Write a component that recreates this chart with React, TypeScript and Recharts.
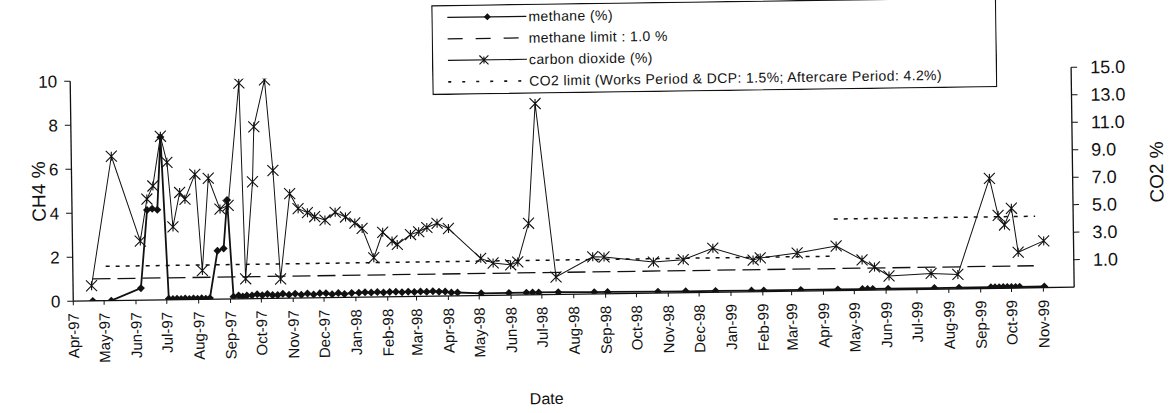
import React from 'react';
import { LineChart, Line, XAxis, YAxis, Legend } from 'recharts';

// month labels on the date axis (ticks sit on the 1st of each month)
const monthNames = ['Jan', 'Feb', 'Mar', 'Apr', 'May', 'Jun', 'Jul', 'Aug', 'Sep', 'Oct', 'Nov', 'Dec'];
const monthLabels = [
  'Apr-97', 'May-97', 'Jun-97', 'Jul-97', 'Aug-97', 'Sep-97', 'Oct-97', 'Nov-97', 'Dec-97',
  'Jan-98', 'Feb-98', 'Mar-98', 'Apr-98', 'May-98', 'Jun-98', 'Jul-98', 'Aug-98', 'Sep-98',
  'Oct-98', 'Nov-98', 'Dec-98', 'Jan-99', 'Feb-99', 'Mar-99', 'Apr-99', 'May-99', 'Jun-99',
  'Jul-99', 'Aug-99', 'Sep-99', 'Oct-99', 'Nov-99',
];
const ch4Ticks = [0, 2, 4, 6, 8, 10];
const co2Ticks = [1, 3, 5, 7, 9, 11, 13, 15];

// methane (%)
const ch4Dates = [
  '1997-04-20', '1997-05-08', '1997-06-06', '1997-06-13', '1997-06-18', '1997-06-23', '1997-06-27',
  '1997-07-03', '1997-07-07', '1997-07-11', '1997-07-15', '1997-07-19', '1997-07-23', '1997-07-27',
  '1997-07-31', '1997-08-04', '1997-08-08', '1997-08-12', '1997-08-20', '1997-08-26', '1997-08-30',
  '1997-09-04', '1997-09-09', '1997-09-13', '1997-09-17', '1997-09-22', '1997-09-27', '1997-10-02',
  '1997-10-07', '1997-10-12', '1997-10-17', '1997-10-22', '1997-10-28', '1997-11-03', '1997-11-09',
  '1997-11-15', '1997-11-21', '1997-11-27', '1997-12-03', '1997-12-09', '1997-12-15', '1997-12-21',
  '1997-12-28', '1998-01-04', '1998-01-10', '1998-01-16', '1998-01-22', '1998-01-28', '1998-02-03',
  '1998-02-09', '1998-02-15', '1998-02-21', '1998-02-27', '1998-03-05', '1998-03-11', '1998-03-17',
  '1998-03-23', '1998-03-29', '1998-04-04', '1998-04-10', '1998-05-03', '1998-05-30', '1998-06-16',
  '1998-06-22', '1998-06-28', '1998-07-17', '1998-08-21', '1998-09-03', '1998-10-22', '1998-11-18',
  '1998-12-17', '1999-01-21', '1999-02-02', '1999-03-10', '1999-04-15', '1999-05-09', '1999-05-14',
  '1999-05-19', '1999-06-03', '1999-07-18', '1999-08-11', '1999-09-11', '1999-09-15', '1999-09-19',
  '1999-09-23', '1999-09-27', '1999-10-01', '1999-10-05', '1999-10-09', '1999-11-02',
];
const ch4Values = [
  0.0, 0.0, 0.55, 4.1, 4.15, 4.1, 7.4,
  0.05, 0.03, 0.05, 0.03, 0.05, 0.03, 0.05,
  0.03, 0.05, 0.03, 0.05, 2.2, 2.3, 4.5,
  0.1, 0.15, 0.1, 0.15, 0.15, 0.2, 0.15,
  0.2, 0.15, 0.15, 0.2, 0.15, 0.2, 0.15,
  0.2, 0.15, 0.2, 0.2, 0.15, 0.2, 0.15,
  0.2, 0.2, 0.22, 0.2, 0.22, 0.2, 0.22,
  0.22, 0.2, 0.22, 0.2, 0.22, 0.2, 0.22,
  0.2, 0.2, 0.15, 0.15, 0.1, 0.1, 0.1,
  0.1, 0.1, 0.1, 0.08, 0.08, 0.06, 0.06,
  0.06, 0.05, 0.05, 0.05, 0.05, 0.05, 0.05,
  0.05, 0.05, 0.05, 0.05, 0.05, 0.05, 0.05,
  0.05, 0.05, 0.05, 0.05, 0.05, 0.05,
];

// carbon dioxide (%)
const co2Dates = [
  '1997-04-19', '1997-05-10', '1997-06-06', '1997-06-13', '1997-06-19', '1997-06-27', '1997-07-03',
  '1997-07-08', '1997-07-15', '1997-07-20', '1997-07-30', '1997-08-05', '1997-08-12', '1997-08-23',
  '1997-08-31', '1997-09-12', '1997-09-16', '1997-09-24', '1997-09-26', '1997-10-07', '1997-10-14',
  '1997-10-20', '1997-10-30', '1997-11-07', '1997-11-16', '1997-11-23', '1997-12-03', '1997-12-13',
  '1997-12-23', '1998-01-01', '1998-01-08', '1998-01-19', '1998-01-28', '1998-02-06', '1998-02-11',
  '1998-02-24', '1998-03-04', '1998-03-12', '1998-03-22', '1998-04-02', '1998-05-03', '1998-05-15',
  '1998-06-01', '1998-06-08', '1998-06-19', '1998-06-27', '1998-07-15', '1998-08-20', '1998-08-31',
  '1998-10-18', '1998-11-16', '1998-12-15', '1999-01-23', '1999-01-30', '1999-03-07', '1999-04-14',
  '1999-05-09', '1999-05-21', '1999-06-04', '1999-07-15', '1999-08-10', '1999-09-11', '1999-09-19',
  '1999-09-25', '1999-10-02', '1999-10-08', '1999-11-02',
];
const co2Values = [
  0.1, 9.5, 3.3, 6.35, 7.3, 10.9, 9.0,
  4.3, 6.8, 6.3, 8.1, 1.1, 7.8, 5.55,
  5.8, 14.7, 0.45, 7.5, 11.5, 14.9, 8.3,
  0.4, 6.6, 5.5, 5.2, 4.9, 4.65, 5.2,
  4.85, 4.4, 4.0, 1.85, 3.7, 3.05, 2.8,
  3.5, 3.7, 4.0, 4.3, 3.9, 1.7, 1.35,
  1.2, 1.4, 4.2, 12.9, 0.27, 1.7, 1.67,
  1.26, 1.4, 2.2, 1.3, 1.45, 1.77, 2.24,
  1.2, 0.67, 0.0, 0.15, 0.05, 7.0, 4.3,
  3.6, 4.8, 1.6, 2.4,
];

// limits
const ch4LimitDates = ['1997-04-20', '1999-10-23'];
const ch4LimitValues = [1.0, 1.0];
const co2WorksLimitDates = ['1997-05-03', '1999-04-10'];
const co2WorksLimitValues = [1.5, 1.5];
const co2AftercareLimitDates = ['1999-04-12', '1999-10-25'];
const co2AftercareLimitValues = [4.2, 4.2];

const legendLabels = [
  'methane (%)',
  'methane limit : 1.0 %',
  'carbon dioxide (%)',
  'CO2 limit (Works Period & DCP: 1.5%; Aftercare Period: 4.2%)',
];

const INK = '#111';
const FONT = '"Liberation Sans", Arial, sans-serif';

const toTime = (label: string) => {
  const [m, y] = label.split('-');
  return Date.UTC(1900 + Number(y), monthNames.indexOf(m), 1);
};
const monthTicks = monthLabels.map(toTime);
const toSeries = (dates: string[], values: number[]) =>
  dates.map((d, i) => ({ t: Date.parse(d), v: values[i] }));

const ch4Data = toSeries(ch4Dates, ch4Values);
const co2Data = toSeries(co2Dates, co2Values);
const ch4LimitData = toSeries(ch4LimitDates, ch4LimitValues);
const co2WorksData = toSeries(co2WorksLimitDates, co2WorksLimitValues);
const co2AftercareData = toSeries(co2AftercareLimitDates, co2AftercareLimitValues);

const diamondPath = (cx: number, cy: number, r: number) =>
  `M${cx},${cy - r}L${cx + r},${cy}L${cx},${cy + r}L${cx - r},${cy}Z`;
const starPath = (cx: number, cy: number, r: number) =>
  `M${cx - r},${cy - r}L${cx + r},${cy + r}M${cx - r},${cy + r}L${cx + r},${cy - r}M${cx},${cy - r + 1}L${cx},${cy + r - 1}`;

const renderDiamond = (p: any) => {
  if (p.cx == null || p.cy == null) return <g key={p.index} />;
  return <path key={p.index} d={diamondPath(p.cx, p.cy, 4)} fill={INK} />;
};

const renderStar = (p: any) => {
  if (p.cx == null || p.cy == null) return <g key={p.index} />;
  return <path key={p.index} d={starPath(p.cx, p.cy, 5.5)} stroke={INK} strokeWidth={1.1} fill="none" />;
};

const MonthTick = (props: any) => {
  const { x, y, payload } = props;
  const i = monthTicks.indexOf(payload.value);
  return (
    <text
      x={x}
      y={y}
      transform={`rotate(-90 ${x} ${y})`}
      textAnchor="end"
      dy="0.35em"
      fontSize={15}
      fontFamily={FONT}
      fill={INK}
    >
      {i >= 0 ? monthLabels[i] : ''}
    </text>
  );
};

const renderLegend = () => {
  const rowY = [12.5, 34, 55.5, 77];
  const x0 = 16;
  const x1 = 95;
  const mid = 56;
  return (
    <svg width={565} height={90} style={{ display: 'block' }}>
      <rect x={0.6} y={0.6} width={563.8} height={88.8} fill="#fff" stroke={INK} strokeWidth={1.3} />
      <line x1={x0} y1={rowY[0]} x2={x1} y2={rowY[0]} stroke={INK} strokeWidth={1.3} />
      <path d={diamondPath(mid, rowY[0], 3.5)} fill={INK} />
      <line x1={x0} y1={rowY[1]} x2={x1} y2={rowY[1]} stroke={INK} strokeWidth={1.3} strokeDasharray="15 13" />
      <line x1={x0} y1={rowY[2]} x2={x1} y2={rowY[2]} stroke={INK} strokeWidth={1.1} />
      <path d={starPath(mid - 4, rowY[2], 4.5)} stroke={INK} strokeWidth={1.1} fill="none" />
      <line x1={x0} y1={rowY[3]} x2={x1} y2={rowY[3]} stroke={INK} strokeWidth={1.6} strokeDasharray="3 11" />
      {legendLabels.map((label, i) => (
        <text
          key={label}
          x={97}
          y={rowY[i]}
          dy="0.35em"
          fontSize={14}
          letterSpacing={0.4}
          fontFamily={FONT}
          fill={INK}
        >
          {label}
        </text>
      ))}
    </svg>
  );
};

const axisTitle = (text: string, x: number, y: number, rotate: boolean) => () => (
  <text
    x={x}
    y={y}
    transform={rotate ? `rotate(-90 ${x} ${y})` : undefined}
    textAnchor="middle"
    dominantBaseline="central"
    fontSize={rotate ? 19 : 16}
    fontFamily={FONT}
    fill={INK}
  >
    {text}
  </text>
);

export default function App() {
  return (
    <div
      style={{
        position: 'absolute',
        left: 0,
        top: 0,
        width: 1173,
        height: 413,
        background: '#fff',
        transform: 'rotate(-0.8deg)',
        transformOrigin: '586.5px 206.5px',
      }}
    >
      <LineChart width={1173} height={413} margin={{ top: 74, right: 0, bottom: 0, left: 0 }}>
        <XAxis
          dataKey="t"
          type="number"
          scale="linear"
          domain={[Date.UTC(1997, 3, 1), Date.UTC(1999, 11, 1)]}
          allowDataOverflow
          ticks={monthTicks}
          tick={<MonthTick />}
          interval={0}
          height={119}
          tickSize={4}
          tickMargin={8}
          axisLine={{ stroke: INK, strokeWidth: 1.3 }}
          tickLine={{ stroke: INK }}
          label={{ content: axisTitle('Date', 544, 398, false) }}
        />
        <YAxis
          yAxisId="ch4"
          orientation="left"
          width={72}
          domain={[0, 10]}
          ticks={ch4Ticks}
          allowDataOverflow
          tickSize={6}
          tickMargin={7}
          tick={{ fontSize: 17, fill: INK, fontFamily: FONT }}
          axisLine={{ stroke: INK, strokeWidth: 1.3 }}
          tickLine={{ stroke: INK }}
          label={{ content: axisTitle('CH4 %', 39, 184, true) }}
        />
        <YAxis
          yAxisId="co2"
          orientation="right"
          width={100}
          domain={[-1, 15]}
          ticks={co2Ticks}
          allowDataOverflow
          tickSize={6}
          tickMargin={13}
          tickFormatter={(v: number) => v.toFixed(1)}
          tick={{ fontSize: 18, fill: INK, fontFamily: FONT }}
          axisLine={{ stroke: INK, strokeWidth: 1.3 }}
          tickLine={{ stroke: INK }}
          label={{ content: axisTitle('CO2 %', 1157, 180, true) }}
        />
        <Legend
          content={renderLegend}
          layout="horizontal"
          verticalAlign="middle"
          align="center"
          wrapperStyle={{ left: 434, top: 3, width: 565, height: 90 }}
        />
        <Line
          data={ch4LimitData}
          dataKey="v"
          yAxisId="ch4"
          name={legendLabels[1]}
          stroke={INK}
          strokeWidth={1.3}
          strokeDasharray="18 7"
          dot={false}
          isAnimationActive={false}
        />
        <Line
          data={co2WorksData}
          dataKey="v"
          yAxisId="co2"
          name={legendLabels[3]}
          stroke={INK}
          strokeWidth={1.5}
          strokeDasharray="4 6"
          dot={false}
          isAnimationActive={false}
        />
        <Line
          data={co2AftercareData}
          dataKey="v"
          yAxisId="co2"
          name="aftercare"
          legendType="none"
          stroke={INK}
          strokeWidth={1.5}
          strokeDasharray="4 6"
          dot={false}
          isAnimationActive={false}
        />
        <Line
          data={co2Data}
          dataKey="v"
          yAxisId="co2"
          name={legendLabels[2]}
          stroke={INK}
          strokeWidth={1}
          dot={renderStar}
          isAnimationActive={false}
        />
        <Line
          data={ch4Data}
          dataKey="v"
          yAxisId="ch4"
          name={legendLabels[0]}
          stroke={INK}
          strokeWidth={1.8}
          dot={renderDiamond}
          isAnimationActive={false}
        />
      </LineChart>
    </div>
  );
}
